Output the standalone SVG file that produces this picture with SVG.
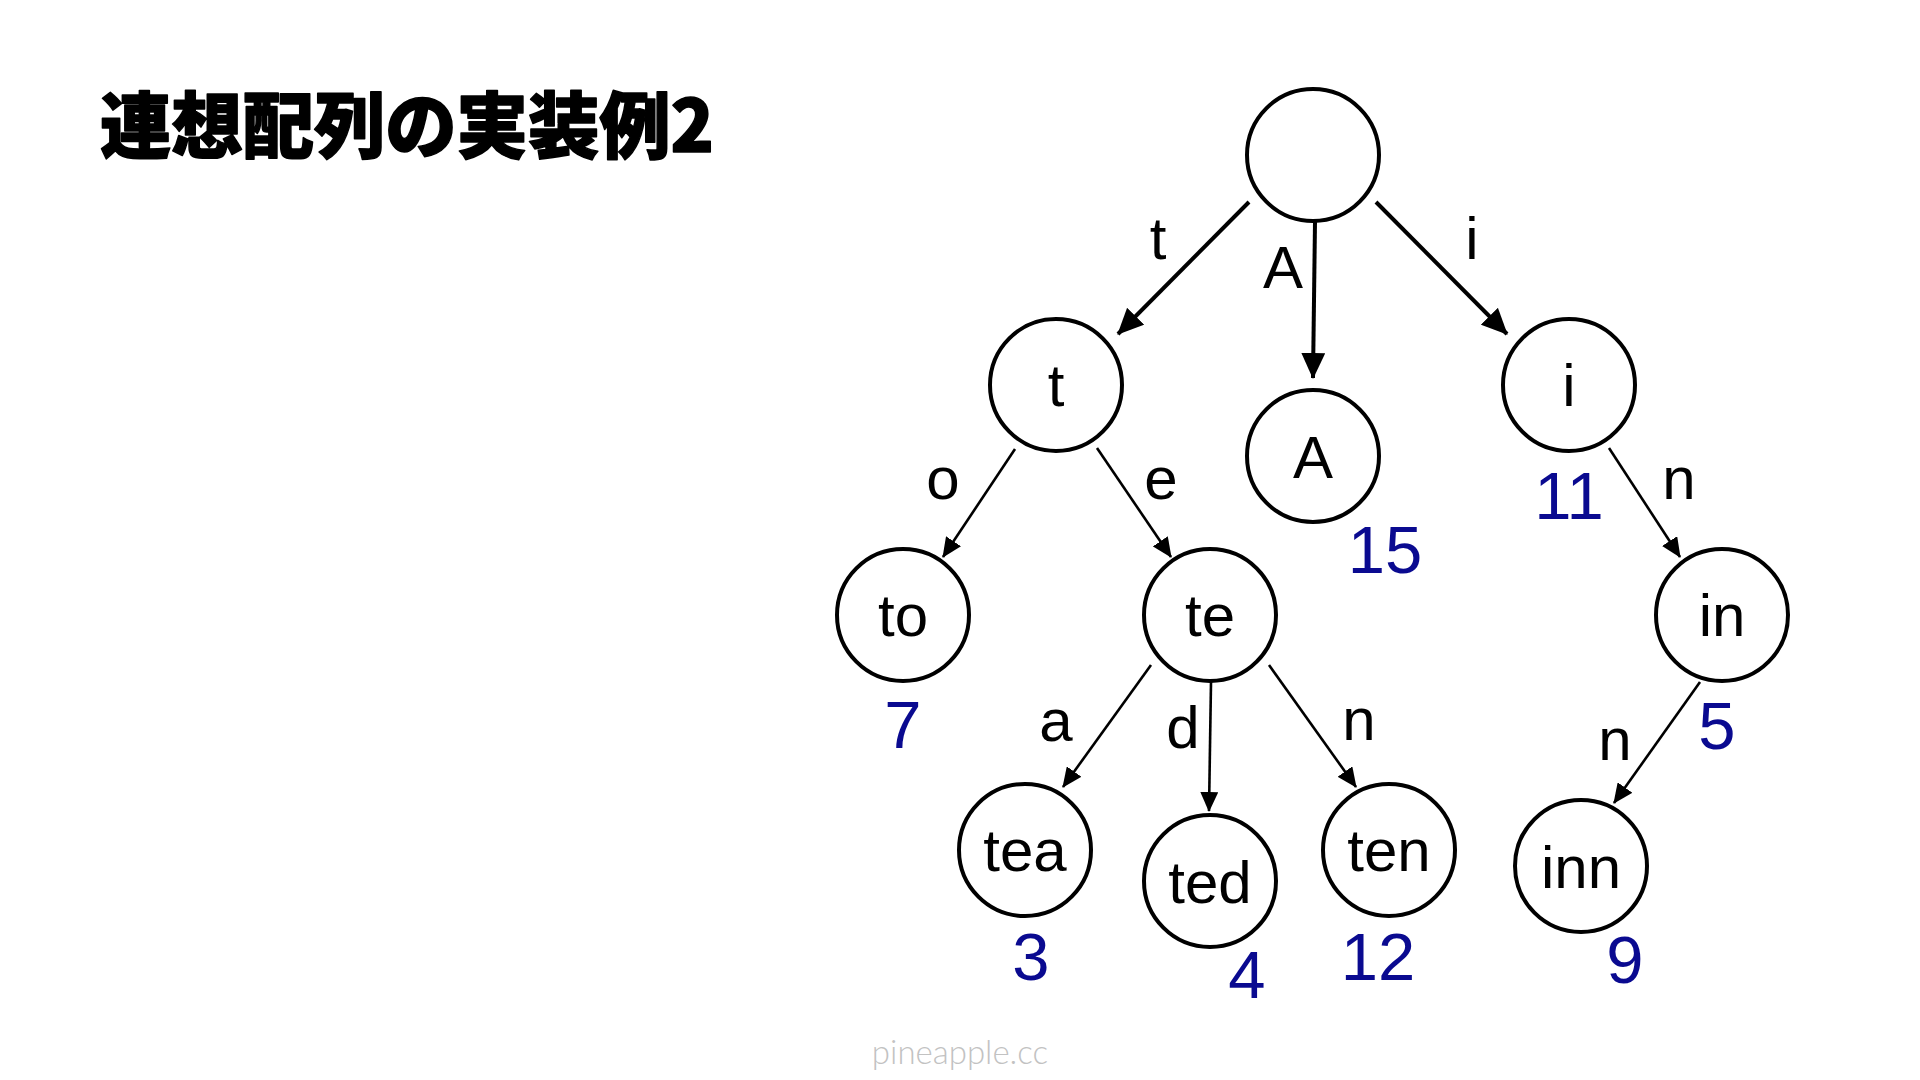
<svg xmlns="http://www.w3.org/2000/svg" width="1920" height="1080" viewBox="0 0 1920 1080">
<style>
.node{fill:#fff;stroke:#000;stroke-width:4}
.nt{font-family:"Liberation Sans",Arial,sans-serif;font-size:60px;fill:#000;text-anchor:middle}
.el{font-family:"Liberation Sans",Arial,sans-serif;font-size:60px;fill:#000;text-anchor:middle}
.num{font-family:"Liberation Sans",Arial,sans-serif;font-size:67px;fill:#0a0a90;text-anchor:middle}
.e1{stroke:#000;stroke-width:4;fill:none;marker-end:url(#ab)}
.e2{stroke:#000;stroke-width:2.6;fill:none;marker-end:url(#as)}
</style>
<defs>
<marker id="ab" markerUnits="userSpaceOnUse" markerWidth="26" markerHeight="24" refX="25" refY="12" orient="auto"><path d="M0,0 L26,12 L0,24 z" fill="#000"/></marker>
<marker id="as" markerUnits="userSpaceOnUse" markerWidth="20" markerHeight="18" refX="19" refY="9" orient="auto"><path d="M0,0 L20,9 L0,18 z" fill="#000"/></marker>
</defs>
<rect width="1920" height="1080" fill="#fff"/>
<text x="100" y="152" font-family="'Noto Sans CJK JP',sans-serif" font-size="72" font-weight="900" fill="#000" stroke="#000" stroke-width="1.5" stroke-linejoin="round" textLength="614" lengthAdjust="spacingAndGlyphs">連想配列の実装例2</text>
<g id="connectors">
<line class="e1" x1="1249" y1="202" x2="1118" y2="334"/>
<line class="e1" x1="1315" y1="222" x2="1313" y2="378"/>
<line class="e1" x1="1376" y1="202" x2="1507" y2="334"/>
<line class="e2" x1="1015" y1="449" x2="943" y2="557"/>
<line class="e2" x1="1097" y1="448" x2="1171" y2="557"/>
<line class="e2" x1="1151" y1="665" x2="1063" y2="787"/>
<line class="e2" x1="1211" y1="682" x2="1209" y2="811"/>
<line class="e2" x1="1269" y1="665" x2="1356" y2="787"/>
<line class="e2" x1="1609" y1="448" x2="1680" y2="557"/>
<line class="e2" x1="1700" y1="682" x2="1614" y2="803"/>
<text class="el" x="1158" y="259">t</text>
<text class="el" x="1283" y="288">A</text>
<text class="el" x="1472" y="259">i</text>
<text class="el" x="943" y="499">o</text>
<text class="el" x="1161" y="499">e</text>
<text class="el" x="1056" y="741">a</text>
<text class="el" x="1183" y="748">d</text>
<text class="el" x="1359" y="740">n</text>
<text class="el" x="1679" y="499">n</text>
<text class="el" x="1615" y="760">n</text>
</g>
<g id="root"><circle class="node" cx="1313" cy="155" r="66"/></g>
<g id="n-t"><circle class="node" cx="1056" cy="385" r="66"/><text class="nt" x="1056" y="406">t</text></g>
<g id="n-A"><circle class="node" cx="1313" cy="456" r="66"/><text class="nt" x="1313" y="478">A</text><text class="num" x="1385" y="573">15</text></g>
<g id="n-i"><circle class="node" cx="1569" cy="385" r="66"/><text class="nt" x="1569" y="406">i</text><text class="num" x="1569" y="519">11</text></g>
<g id="n-to"><circle class="node" cx="903" cy="615" r="66"/><text class="nt" x="903" y="636">to</text><text class="num" x="903" y="748">7</text></g>
<g id="n-te"><circle class="node" cx="1210" cy="615" r="66"/><text class="nt" x="1210" y="636">te</text></g>
<g id="n-in"><circle class="node" cx="1722" cy="615" r="66"/><text class="nt" x="1722" y="636">in</text><text class="num" x="1717" y="749">5</text></g>
<g id="n-tea"><circle class="node" cx="1025" cy="850" r="66"/><text class="nt" x="1025" y="871">tea</text><text class="num" x="1031" y="980">3</text></g>
<g id="n-ted"><circle class="node" cx="1210" cy="881" r="66"/><text class="nt" x="1210" y="903">ted</text><text class="num" x="1247" y="998">4</text></g>
<g id="n-ten"><circle class="node" cx="1389" cy="850" r="66"/><text class="nt" x="1389" y="871">ten</text><text class="num" x="1378" y="980">12</text></g>
<g id="n-inn"><circle class="node" cx="1581" cy="866" r="66"/><text class="nt" x="1581" y="888">inn</text><text class="num" x="1625" y="983">9</text></g>
<text x="960" y="1064" font-family="Lato,sans-serif" font-weight="300" font-size="33" fill="#c2c2c2" text-anchor="middle">pineapple.cc</text>
</svg>
